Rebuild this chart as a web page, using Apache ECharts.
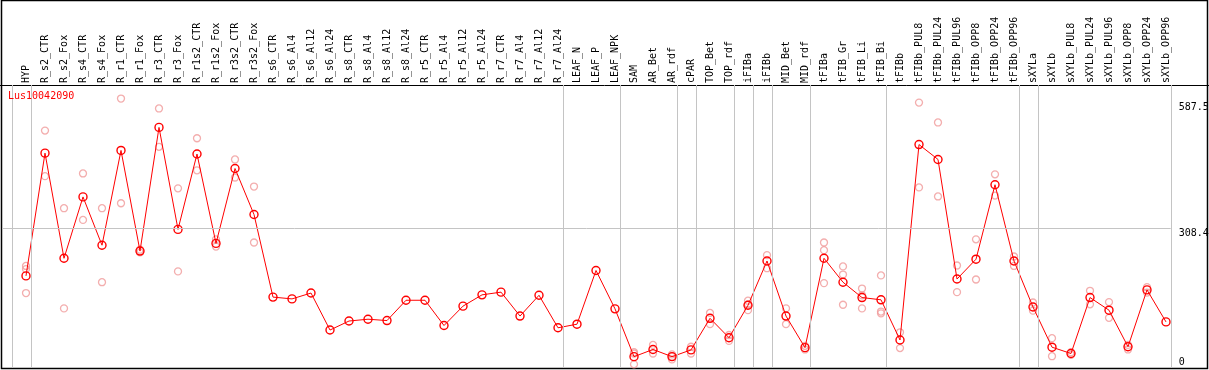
<!DOCTYPE html>
<html>
<head>
<meta charset="utf-8">
<script src="https://cdn.jsdelivr.net/npm/echarts@6/dist/echarts.min.js"></script>
<style>
    html, body { margin: 0; padding: 0; background: #fff; }
    #chart { width: 1209px; height: 370px; }
</style>
</head>
<body>
<div id="chart"></div>
<script>
const categories = [
    'HYP', 'R_s2_CTR', 'R_s2_Fox', 'R_s4_CTR', 'R_s4_Fox', 'R_r1_CTR', 'R_r1_Fox', 'R_r3_CTR', 'R_r3_Fox',
    'R_r1s2_CTR', 'R_r1s2_Fox', 'R_r3s2_CTR', 'R_r3s2_Fox', 'R_s6_CTR', 'R_s6_Al4', 'R_s6_Al12', 'R_s6_Al24',
    'R_s8_CTR', 'R_s8_Al4', 'R_s8_Al12', 'R_s8_Al24', 'R_r5_CTR', 'R_r5_Al4', 'R_r5_Al12', 'R_r5_Al24',
    'R_r7_CTR', 'R_r7_Al4', 'R_r7_Al12', 'R_r7_Al24', 'LEAF_N', 'LEAF_P', 'LEAF_NPK', 'SAM', 'AR_Bet', 'AR_rdf',
    'cPAR', 'TOP_Bet', 'TOP_rdf', 'iFIBa', 'iFIBb', 'MID_Bet', 'MID_rdf', 'tFIBa', 'tFIB_Gr', 'tFIB_Li', 'tFIB_Bi',
    'tFIBb', 'tFIBb_PUL8', 'tFIBb_PUL24', 'tFIBb_PUL96', 'tFIBb_OPP8', 'tFIBb_OPP24', 'tFIBb_OPP96', 'sXYLa',
    'sXYLb', 'sXYLb_PUL8', 'sXYLb_PUL24', 'sXYLb_PUL96', 'sXYLb_OPP8', 'sXYLb_OPP24', 'sXYLb_OPP96'
];

// mean expression per sample
const means = [
    203, 475, 242, 378, 271, 481, 258, 532, 306, 473, 275, 441, 339, 156, 152, 165, 83,
    103, 107, 104, 149, 149, 93, 136, 161, 167, 114, 160, 88, 96, 215, 130, 24, 40, 24,
    39, 109, 66, 138, 236, 114, 44, 242, 189, 155, 150, 61, 494, 461, 196, 240, 405, 236,
    134, 45, 31, 155, 127, 46, 172, 101
];

// single replicates (faint circles)
const replicates = [
    [225, 218, 165], [525, 424], [353, 131], [430, 327], [353, 189], [596, 364], [261, 255],
    [574, 489], [397, 213], [508, 437], [284, 268], [461, 421], [401, 277],
    [], [], [], [], [], [], [], [], [], [], [], [], [], [], [], [], [], [], [],
    [34, 31, 7], [50, 31], [29, 24, 18], [46, 31], [121, 96], [72, 59], [148, 140, 127],
    [249, 220], [131, 96], [48, 40], [277, 260, 187], [224, 206, 139], [175, 160, 131],
    [204, 124, 120], [78, 43], [587, 399], [543, 379], [226, 167], [284, 195], [428, 381],
    [246, 225], [144, 126], [65, 25], [34, 28], [170, 140], [145, 110], [50, 40], [178, 166], []
];

// last sample index of each group (separator drawn after it)
const groupEnds = [-1, 0, 28, 31, 34, 35, 37, 38, 39, 41, 45, 52, 53, 60];
const yLabels = [308.4, 587.5];
const yZeroLabel = [0];
const yGridLines = [308.4];
const geneName = 'Lus10042090';

const MONO = 'DejaVu Sans Mono';
const GRID_TOP = 85;
const SEP_COLOR = '#c4c4c4';

const chart = echarts.init(document.getElementById('chart'));

const separators = groupEnds.map(k => k + 0.25);
const meanData = means.map((v, i) => [i, v]);
const repData = [];
replicates.forEach((reps, i) => reps.forEach(r => repData.push([i, r])));

const option = {
    animation: false,
    backgroundColor: '#fff',
    title: {
        text: geneName, left: 8, top: 91, padding: 0,
        textStyle: { fontFamily: MONO, fontSize: 10, fontWeight: 'normal', color: '#ff0000' }
    },
    grid: { left: 2.25, right: 38.25, top: GRID_TOP, bottom: 2.5, outerBoundsMode: 'none', containLabel: false },
    xAxis: {
        type: 'value', position: 'top', min: -1.25, max: 60.25,
        axisLine: { show: false },
        axisTick: { show: true, customValues: separators, inside: false, length: GRID_TOP, lineStyle: { color: SEP_COLOR, width: 1 } },
        axisLabel: {
            customValues: categories.map((c, i) => i),
            formatter: v => categories[Math.round(v)] || '',
            rotate: 90, margin: 2, fontFamily: MONO, fontSize: 10, color: '#000'
        },
        splitLine: { show: false }
    },
    yAxis: [
        {
            type: 'value', position: 'right', min: 0, max: 626,
            axisLine: { show: false }, axisTick: { show: false }, splitLine: { show: false },
            axisLabel: { customValues: yLabels, verticalAlign: 'top', margin: 8, fontFamily: MONO, fontSize: 10, color: '#000' }
        },
        {
            type: 'value', position: 'right', min: 0, max: 626,
            axisLine: { show: false }, axisTick: { show: false }, splitLine: { show: false },
            axisLabel: { customValues: yZeroLabel, verticalAlign: 'bottom', margin: 8, fontFamily: MONO, fontSize: 10, color: '#000' }
        }
    ],
    series: [
        {
            type: 'scatter',
            data: repData,
            symbol: 'circle',
            symbolSize: 7,
            silent: true,
            z: 2,
            itemStyle: { color: 'transparent', borderColor: '#f09a9a', borderWidth: 1.3 },
            markLine: {
                silent: true,
                symbol: ['none', 'none'],
                label: { show: false },
                lineStyle: { color: SEP_COLOR, type: 'solid', width: 1 },
                data: separators.map(x => ({ xAxis: x })).concat(yGridLines.map(y => ({ yAxis: y })))
            }
        },
        {
            type: 'line',
            data: meanData,
            symbol: 'circle',
            symbolSize: 8,
            silent: true,
            z: 3,
            lineStyle: { color: '#ff0000', width: 1 },
            itemStyle: { color: 'transparent', borderColor: '#ff0000', borderWidth: 1.4 }
        }
    ],
    graphic: [
        { type: 'line', silent: true, shape: { x1: 0, y1: GRID_TOP + 0.5, x2: 1209, y2: GRID_TOP + 0.5 }, style: { stroke: '#000', lineWidth: 1 } },
        { type: 'rect', silent: true, shape: { x: 1.5, y: 0.5, width: 1206, height: 368 }, style: { fill: 'none', stroke: '#000', lineWidth: 1.5 } }
    ]
};
chart.setOption(option);
</script>
</body>
</html>
